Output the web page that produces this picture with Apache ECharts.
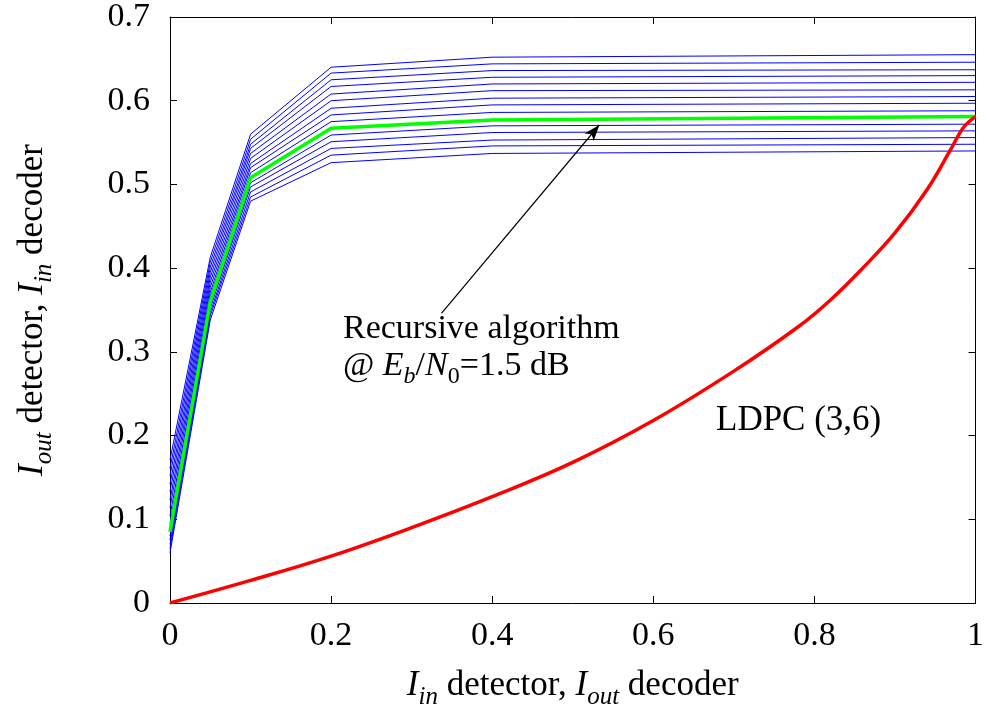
<!DOCTYPE html>
<html><head><meta charset="utf-8">
<script src="https://cdn.jsdelivr.net/npm/echarts@6/dist/echarts.min.js"></script>
<style>html,body{margin:0;padding:0;background:#fff}#c{width:987px;height:716px}</style>
</head><body><div id="c"></div>
<script>
// x positions at which the recursive-algorithm curves are sampled
const xPoints = [0, 0.05, 0.1, 0.2, 0.4, 1];
// blue curves (top to bottom)
const blue1  = [0.171, 0.413, 0.560, 0.640, 0.652, 0.655];
const blue2  = [0.161, 0.407, 0.554, 0.633, 0.644, 0.646];
const blue3  = [0.152, 0.401, 0.548, 0.625, 0.636, 0.637];
const blue4  = [0.142, 0.395, 0.543, 0.617, 0.628, 0.630];
const blue5  = [0.133, 0.389, 0.537, 0.608, 0.620, 0.622];
const blue6  = [0.123, 0.383, 0.531, 0.600, 0.612, 0.613];
const blue7  = [0.114, 0.377, 0.525, 0.591, 0.603, 0.605];
const blue8  = [0.104, 0.371, 0.520, 0.583, 0.595, 0.597];
const blue9  = [0.095, 0.366, 0.514, 0.575, 0.586, 0.588];
const blue10 = [0.085, 0.360, 0.508, 0.567, 0.577, 0.581];
const blue11 = [0.080, 0.356, 0.502, 0.559, 0.570, 0.572];
const blue12 = [0.075, 0.352, 0.497, 0.551, 0.562, 0.564];
const blue13 = [0.070, 0.347, 0.491, 0.543, 0.553, 0.556];
const blue14 = [0.065, 0.343, 0.485, 0.535, 0.546, 0.548];
const blue15 = [0.060, 0.338, 0.480, 0.526, 0.537, 0.540];
// highlighted curve @ Eb/N0 = 1.5 dB
const greenCurve = [0.085, 0.360, 0.508, 0.567, 0.577, 0.581];
// LDPC (3,6) EXIT curve
const ldpcX = [0, 0.1, 0.2, 0.3, 0.4, 0.5, 0.6, 0.7, 0.78, 0.82, 0.86, 0.90, 0.94, 0.97, 0.985, 1.0];
const ldpcY = [0, 0.027, 0.056, 0.090, 0.127, 0.168, 0.218, 0.277, 0.330, 0.362, 0.400, 0.442, 0.494, 0.543, 0.568, 0.581];
// axis ticks
const xTicks = [0, 0.2, 0.4, 0.6, 0.8, 1];
const yTicks = [0, 0.1, 0.2, 0.3, 0.4, 0.5, 0.6, 0.7];
// arrow annotation (data coords): from text to the highlighted curve
const arrowFrom = [0.337, 0.346];
const arrowTo = [0.533, 0.571];

const blueCurves = [blue1, blue2, blue3, blue4, blue5, blue6, blue7, blue8, blue9, blue10, blue11, blue12, blue13, blue14, blue15];
const FONT = 'Liberation Serif';
const pair = (xs, ys) => xs.map((x, i) => [x, ys[i]]);

const series = [];
blueCurves.forEach((c) => series.push({
  type: 'line', data: pair(xPoints, c), showSymbol: false, silent: true,
  lineStyle: { color: '#0000ff', width: 1 }, z: 2
}));
series.push({
  type: 'line', data: pair(xPoints, greenCurve), showSymbol: false, silent: true,
  lineStyle: { color: '#00ff00', width: 3.5 }, z: 3,
  markLine: {
    silent: true, symbol: ['none', 'arrow'], symbolSize: [9, 16],
    label: { show: false },
    lineStyle: { color: '#000', width: 1.2, type: 'solid' },
    data: [[{ coord: arrowFrom }, { coord: arrowTo }]]
  }
});
series.push({
  type: 'line', data: pair(ldpcX, ldpcY), showSymbol: false, silent: true,
  smooth: 0.4,
  lineStyle: { color: '#ff0000', width: 3.5 }, z: 4
});

function makeRich(big, small, drop) {
  return {
    i: { fontFamily: FONT, fontStyle: 'italic', fontSize: big, lineHeight: 42, color: '#000' },
    n: { fontFamily: FONT, fontSize: big, lineHeight: 42, color: '#000' },
    s: { fontFamily: FONT, fontStyle: 'italic', fontSize: small, lineHeight: 18, padding: [drop, 0, 0, 0], color: '#000' },
    su: { fontFamily: FONT, fontSize: small, lineHeight: 18, padding: [drop, 0, 0, 0], color: '#000' }
  };
}
const richAxis = makeRich(35, 25, 22);
const richNote = makeRich(34, 24, 22);

const axisCommon = {
  type: 'value', splitLine: { show: false },
  axisLine: { show: true, onZero: false, lineStyle: { color: '#000', width: 1 } },
  axisTick: { show: true, inside: true, length: 7, lineStyle: { color: '#000' } }
};

const chart = echarts.init(document.getElementById('c'), null, { renderer: 'canvas' });
chart.setOption({
  animation: false,
  backgroundColor: '#fff',
  grid: { left: 170, right: 7, top: 17, bottom: 113, containLabel: false },
  xAxis: [
    Object.assign({}, axisCommon, {
      position: 'bottom', min: 0, max: 1, interval: 0.2,
      axisLabel: { fontFamily: FONT, fontSize: 34, color: '#000', margin: 16 },
      name: '{i|I}{s|in}{n| detector, }{i|I}{s|out}{n| decoder}',
      nameLocation: 'middle', nameGap: 62,
      nameTextStyle: { rich: richAxis }
    }),
    Object.assign({}, axisCommon, {
      position: 'top', min: 0, max: 1, interval: 0.2,
      axisLabel: { show: false }
    })
  ],
  yAxis: [
    Object.assign({}, axisCommon, {
      position: 'left', min: 0, max: 0.7, interval: 0.1,
      axisLabel: { fontFamily: FONT, fontSize: 34, color: '#000', margin: 20 },
      name: '{i|I}{s|out}{n| detector, }{i|I}{s|in}{n| decoder}',
      nameLocation: 'middle', nameGap: 116,
      nameTextStyle: { rich: richAxis }
    }),
    Object.assign({}, axisCommon, {
      position: 'right', min: 0, max: 0.7, interval: 0.1,
      axisLabel: { show: false }
    })
  ],
  series: series,
  graphic: [
    { type: 'text', left: 343, top: 312, silent: true,
      style: { text: 'Recursive algorithm', fontFamily: FONT, fontSize: 34, fill: '#000' } },
    { type: 'text', left: 343, top: 343, silent: true,
      style: { text: '{n|@ }{i|E}{s|b}{n|/}{i|N}{su|0}{n|=1.5 dB}', rich: richNote } },
    { type: 'text', left: 716, top: 403, silent: true,
      style: { text: 'LDPC (3,6)', fontFamily: FONT, fontSize: 35, fill: '#000' } }
  ]
});
</script>
</body></html>
